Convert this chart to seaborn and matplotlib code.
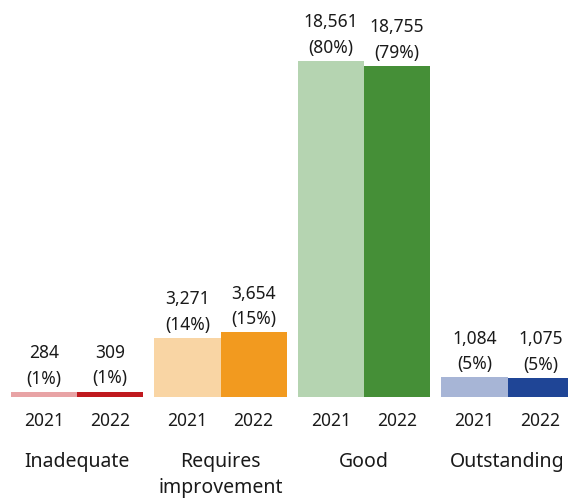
import numpy as np
import pandas as pd
import matplotlib
matplotlib.use("Agg")
import matplotlib.pyplot as plt
import seaborn as sns

categories = ["Inadequate", "Requires\nimprovement", "Good", "Outstanding"]
years = ["2021", "2022"]
counts_2021 = [284, 3271, 18561, 1084]
counts_2022 = [309, 3654, 18755, 1075]
light_colors = ["#E8A3A5", "#F9D5A4", "#B5D4B1", "#A7B5D6"]
dark_colors = ["#C0191E", "#F29A1F", "#458F37", "#1F4596"]

# bar heights are the share of each year's total
pct_2021 = np.array(counts_2021) / sum(counts_2021) * 100
pct_2022 = np.array(counts_2022) / sum(counts_2022) * 100

df = pd.DataFrame({
    "category": categories * 2,
    "year": [years[0]] * 4 + [years[1]] * 4,
    "count": counts_2021 + counts_2022,
    "pct": list(pct_2021) + list(pct_2022),
})

sns.set_theme(style="white")
plt.rcParams["font.family"] = ["Noto Sans", "DejaVu Sans"]

fig = plt.figure(figsize=(5.68, 4.99), dpi=100)
ax = fig.add_axes([0, 1 - 397 / 499, 1, 397 / 499])

sns.barplot(data=df, x="category", y="pct", hue="year", width=0.92,
            dodge=True, saturation=1, legend=False, ax=ax, linewidth=0)

for cont, cols in zip(ax.containers, [light_colors, dark_colors]):
    for bar, c in zip(cont, cols):
        bar.set_facecolor(c)
        bar.set_edgecolor("none")

for k, (cont, yr_counts, yr_pct) in enumerate(zip(ax.containers, [counts_2021, counts_2022], [pct_2021, pct_2022])):
    for bar, n, p in zip(cont, yr_counts, yr_pct):
        xc = bar.get_x() + bar.get_width() / 2
        ax.annotate(f"{n:,}\n({p:.0f}%)", (xc, bar.get_height()),
                    xytext=(0, 3), textcoords="offset points",
                    ha="center", va="bottom", fontsize=12.5,
                    linespacing=1.55, color="#1a1a1a", annotation_clip=False)
        ax.text(xc, -24 / 397, years[k], transform=ax.get_xaxis_transform(),
                ha="center", va="center", fontsize=12.5, color="#1a1a1a")

for i, cat in enumerate(categories):
    ax.text(i, -55 / 397, cat, transform=ax.get_xaxis_transform(),
            ha="center", va="top", fontsize=14, linespacing=1.4, color="#1a1a1a")

ax.set_xlim(-77 / 143.5, (568 - 77) / 143.5)
ax.set_ylim(0, 397 / 4.2)
ax.set_axis_off()

fig.savefig("out.png", dpi=100)
